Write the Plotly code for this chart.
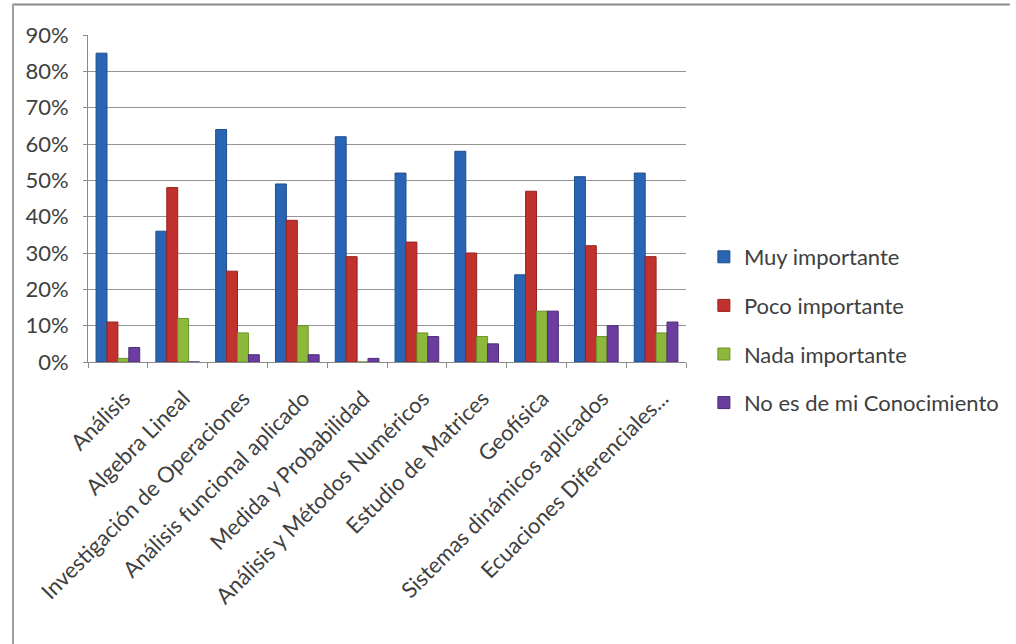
import plotly.graph_objects as go

categories = ["Análisis", "Algebra Lineal", "Investigación de Operaciones",
              "Análisis funcional aplicado", "Medida y Probabilidad",
              "Análisis y Métodos Numéricos", "Estudio de Matrices", "Geofísica",
              "Sistemas dinámicos aplicados", "Ecuaciones Diferenciales..."]
muy_importante = [85, 36, 64, 49, 62, 52, 58, 24, 51, 52]
poco_importante = [11, 48, 25, 39, 29, 33, 30, 47, 32, 29]
nada_importante = [1, 12, 8, 10, 0, 8, 7, 14, 7, 8]
no_conocimiento = [4, 0, 2, 2, 1, 7, 5, 14, 10, 11]
series_names = ["Muy importante", "Poco importante", "Nada importante", "No es de mi Conocimiento"]
y_ticks = [0, 10, 20, 30, 40, 50, 60, 70, 80, 90]

colors = ["#2A64B4", "#C1312D", "#8CB93B", "#6A3D9E"]
edge = ["#1F4E8C", "#962320", "#6C9128", "#4F2C78"]

W, H = 1016, 644
L, R, T, B = 88, 690, 35, 362  # plot area pixels

def px(x):
    return (x - L) / (R - L)

def py(y):
    return (B - y) / (B - T)

fig = go.Figure()
for i, (name, vals) in enumerate(zip(series_names,
                                     [muy_importante, poco_importante, nada_importante, no_conocimiento])):
    fig.add_trace(go.Bar(
        x=categories, y=[v / 100 for v in vals], name=name,
        marker=dict(color=colors[i], line=dict(color=edge[i], width=1)),
        legendgroup=str(i),
    ))

font_family = "Lato, 'Open Sans', sans-serif"
fig.update_layout(
    width=W, height=H,
    margin=dict(l=L, r=W - R, t=T, b=H - B, pad=0),
    paper_bgcolor="white", plot_bgcolor="white",
    barmode="group", bargap=0.27, bargroupgap=0,
    font=dict(family=font_family, color="#404040"),
    legend=dict(x=px(708), y=py(236), xanchor="left", yanchor="top",
                font=dict(size=22, color="#404040"), tracegroupgap=17,
                itemwidth=30, bgcolor="rgba(0,0,0,0)"),
    xaxis=dict(tickangle=-45, tickfont=dict(size=22, color="#404040"),
               showline=True, linecolor="#8a8a8a", linewidth=1,
               ticks="outside", tickson="boundaries", ticklen=5, tickcolor="#8a8a8a",
               showgrid=False, ticklabelstandoff=14, ticklabelshift=6),
    yaxis=dict(range=[0, 0.9], tickvals=[t / 100 for t in y_ticks],
               ticktext=[f"{t}%" for t in y_ticks],
               tickfont=dict(size=22, color="#404040"),
               showgrid=True, gridcolor="#959595", gridwidth=1,
               showline=True, linecolor="#8a8a8a", linewidth=1,
               ticks="outside", ticklen=4, tickcolor="#8a8a8a", zeroline=False,
               ticklabelstandoff=10),
    shapes=[
        dict(type="line", xref="paper", yref="paper", x0=px(12), x1=px(1016),
             y0=py(4.5), y1=py(4.5), line=dict(color="#8a8a8a", width=2)),
        dict(type="line", xref="paper", yref="paper", x0=px(12.5), x1=px(12.5),
             y0=py(4), y1=py(644), line=dict(color="#a0a0a0", width=2)),
    ],
)

fig.write_html("out.html")
